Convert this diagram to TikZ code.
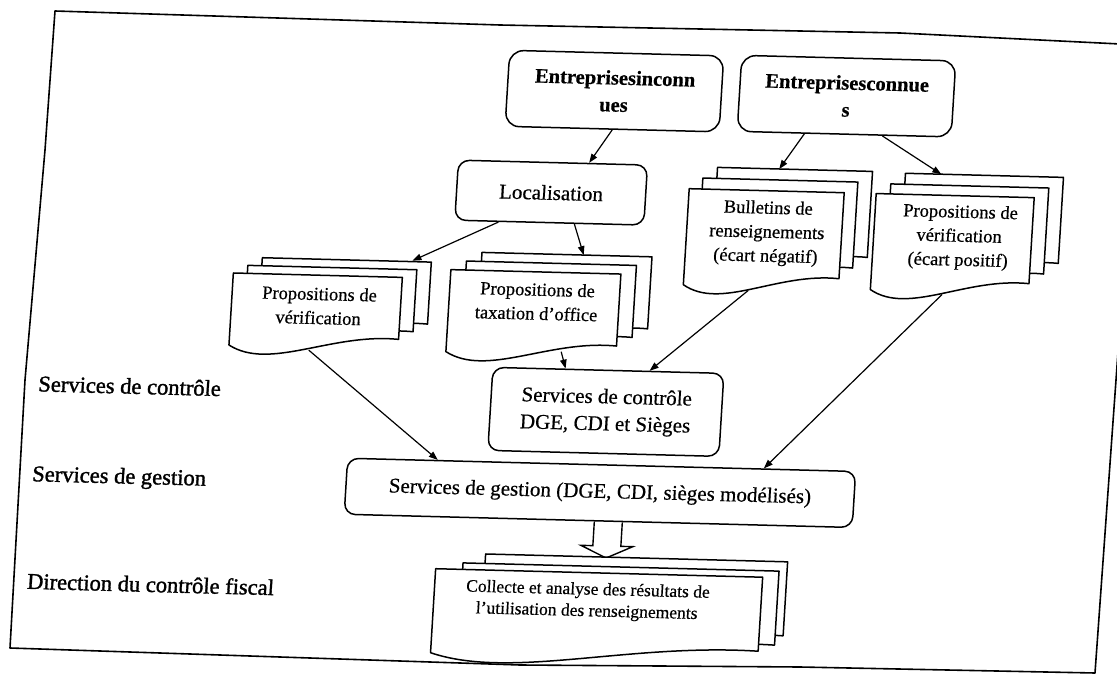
\documentclass[tikz,border=0pt]{standalone}
\usepackage{fontspec}
\setmainfont[FakeBold=0.5]{Liberation Serif}
\newfontfamily\lanefont[FakeBold=1.4]{Liberation Serif}
\usetikzlibrary{arrows.meta,calc}
\pgfdeclarelayer{paper}
\pgfdeclarelayer{links}
\pgfsetlayers{paper,links,main}

% one sheet of a document stack: north-west corner, width, height of the left side
\newcommand\docsheet[4]{%
  \draw[sheet] (#1,#2) -- ({#1+#3},#2) -- ({#1+#3},{#2+#4-10})
    .. controls ({#1+0.6*#3},{#2+#4-15}) and ({#1+0.25*#3},{#2+#4+25}) .. (#1,{#2+#4}) -- cycle;}

\begin{document}
\begin{tikzpicture}[x=1pt,y=-1pt,
  box/.style={draw, line width=1.5pt, rounded corners=11pt, fill=white, align=center, inner sep=0pt},
  bigbox/.style={box, rounded corners=14pt, font=\bfseries\fontsize{20.5}{27}\selectfont,
                 minimum width=214pt, minimum height=76pt},
  sheet/.style={draw, line width=1.5pt, fill=white, line join=round},
  doctext/.style={align=center, font=\fontsize{18.5}{24}\selectfont, inner sep=0pt},
  flow/.style={line width=1.2pt, -{Triangle[length=9pt,width=6.5pt]}},
  blockarrow/.style={draw, line width=1.4pt, fill=white, line join=miter},
  lane/.style={anchor=west, font=\lanefont\fontsize{22.5}{27}\selectfont, inner sep=0pt},
  frame/.style={line width=1.6pt, line join=round}]

\useasboundingbox (0,0) rectangle (1117,674);
\begin{pgfonlayer}{paper}
  \fill[white] (0,0) rectangle (1117,674);
\end{pgfonlayer}

% outer frame of the sheet
\draw[frame] (55,11) -- (500,25) -- (900,33) -- (1140,45) -- (1095,673)
  -- (800,667) -- (520,665) -- (10,648) -- (25,380) -- (45,150) -- cycle;

\begin{scope}[cm={1,-0.026,0.061,1,(0,0)}, transform shape]

  % lane titles
  \node[lane] (l1) at (61.6,382) {Services de contrôle};
  \node[lane] (l2) at (61,474.2) {Services de gestion};
  \node[lane] (l3) at (62.4,579.3) {Direction du contrôle fiscal};

  % rounded boxes
  \node[bigbox] (inc) at (619,75) {Entreprisesinconn\\ues};
  \node[bigbox] (con) at (851,74) {Entreprisesconnue\\s};
  \node[box, font=\fontsize{21}{26}\selectfont, minimum width=189pt, minimum height=60pt]
    (loc) at (562,178) {Localisation};
  \node[box, font=\fontsize{21}{27}\selectfont, minimum width=231pt, minimum height=83pt]
    (sc) at (630,395.5) {Services de contrôle\\DGE, CDI et Sièges};
  \node[box, font=\fontsize{21}{26}\selectfont, minimum width=508pt, minimum height=56pt]
    (sg) at (629,476.5) {Services de gestion (DGE, CDI, sièges modélisés)};

  % document stacks
  \docsheet{277.6}{250.5}{169}{72}
  \docsheet{263.6}{258.5}{169}{72}
  \docsheet{249.6}{266.5}{169}{72}
  \node[doctext] (ld) at (337,297) {Propositions de\\vérification};

  \docsheet{496.6}{239.5}{170}{82}
  \docsheet{481.6}{248.5}{170}{82}
  \docsheet{466.6}{257.5}{170}{82}
  \node[doctext] (md) at (554.4,287) {Propositions de\\taxation d’office};

  \docsheet{726.6}{148.5}{155}{96}
  \docsheet{712.6}{159.5}{155}{96}
  \docsheet{699.6}{170.5}{155}{96}
  \node[doctext] (bd) at (779.8,213) {Bulletins de\\renseignements\\(écart négatif)};

  \docsheet{914.6}{149.5}{158}{96}
  \docsheet{900.6}{160.5}{158}{96}
  \docsheet{886.6}{170.5}{158}{96}
  \node[doctext] (rd) at (972,212) {Propositions de\\vérification\\(écart positif)};

  \docsheet{518.6}{540.5}{302}{84}
  \docsheet{496.6}{550}{316}{84}
  \docsheet{469.6}{556.5}{327}{84}
  \node[doctext, font=\fontsize{17.5}{21.5}\selectfont] (cd) at (623,585)
    {Collecte et analyse des résultats de\\l’utilisation des renseignements};

  % connectors
  \begin{pgfonlayer}{links}
    \draw[flow] (inc.south) -- ($(loc.north)+(36,0)$);
    \draw[flow] ($(loc.south)+(-51,0)$) -- ($(ld)+(90.6,-47.5)$);
    \draw[flow] ($(loc.south)+(25,0)$) -- ($(md)+(43.8,-47.5)$);
    \draw[flow] ($(con.south)+(-40,0)$) -- ($(bd)+(8.3,-64.5)$);
    \draw[flow] ($(con.south)+(38,0)$) -- ($(rd)+(-21.8,-62.5)$);
    \draw[flow] ($(md)+(27.2,49.5)$) -- ($(sc.north)+(-43,0)$);
    \draw[flow] ($(bd)+(-15.2,57.5)$) -- ($(sc.north)+(41,0)$);
    \draw[flow] ($(ld)+(-7.5,44.5)$) -- ($(sg.north)+(-164,0)$);
    \draw[flow] ($(rd)+(-13.7,57.5)$) -- ($(sg.north)+(162,0)$);
    \draw[blockarrow] ($(sg.south)+(-4,0)$) -- ++(0,24) -- ++(-12,0) -- ++(26,12)
      -- ++(26,-12) -- ++(-12,0) -- ++(0,-24);
  \end{pgfonlayer}
\end{scope}
\end{tikzpicture}
\end{document}
